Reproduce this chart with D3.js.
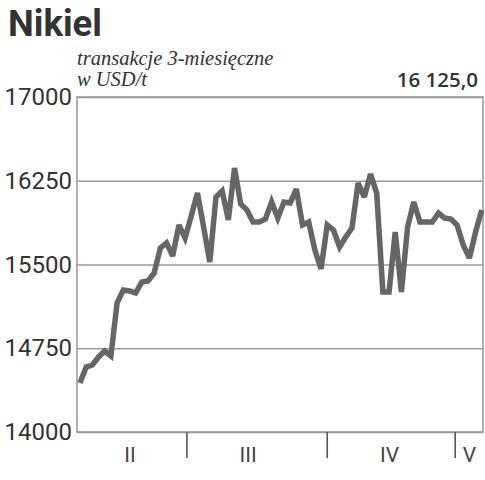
<!DOCTYPE html>
<html><head><meta charset="utf-8">
<script src="https://cdn.jsdelivr.net/npm/d3@7"></script>
<style>body{margin:0;background:#fff}svg{display:block}</style>
</head><body>
<script>
const title = "Nikiel";
const subtitle = ["transakcje 3-miesięczne", "w USD/t"];
const lastValue = "16 125,0";
const yTicks = [14000, 14750, 15500, 16250, 17000];
const months = ["II", "III", "IV", "V"];
const monthCenters = [8.1, 27.2, 50.1, 63];
const monthBreaks = [17.3, 40, 60.7];
const prices = [14439,14582,14600,14672,14725,14681,15155,15272,15263,15245,15343,15352,15424,15648,15693,15576,
15854,15737,15934,16140,15836,15522,16104,16158,15899,16364,16042,15988,15881,15881,15907,16060,15916,16060,16051,
16176,15854,15881,15630,15460,15854,15809,15657,15746,15827,16230,16104,16310,16140,15254,15254,15791,15254,15836,
16060,15881,15881,15881,15961,15916,15907,15854,15675,15558,15791,15988];

const W = 485, H = 480;
const svg = d3.select("body").append("svg").attr("width", W).attr("height", H);
const L = 77, R = 483, T = 97, B = 432;
const x = d3.scaleLinear().domain([-0.485, 65.2]).range([L, R]);
const y = d3.scaleLinear().domain([14000, 17000]).range([B, T]);

svg.append("text").attr("x", 8).attr("y", 36).text(title)
  .attr("font-family", "Roboto, sans-serif").attr("font-weight", 700).attr("font-size", 36.5).attr("fill", "#333");
subtitle.forEach((s, i) => svg.append("text").attr("x", 77).attr("y", 65 + i * 21).text(s)
  .attr("font-family", "'Liberation Serif', serif").attr("font-style", "italic").attr("font-size", 20.5).attr("fill", "#333"));
svg.append("text").attr("x", 478).attr("y", 87).attr("text-anchor", "end").text(lastValue)
  .attr("font-family", "'Open Sans', sans-serif").attr("font-weight", 600).attr("font-size", 20.5).attr("fill", "#333");

// grid + y labels
const ya = svg.append("g").attr("transform", `translate(${L},0)`)
  .call(d3.axisLeft(y).tickValues(yTicks).tickSizeInner(-(R - L)).tickSizeOuter(0).tickPadding(5).tickFormat(d3.format("d")));
ya.select(".domain").remove();
ya.selectAll(".tick line").attr("stroke", "#999").attr("stroke-width", 1.5);
ya.selectAll(".tick text").attr("font-family", "Roboto, sans-serif").attr("font-size", 24).attr("fill", "#333");

// frame
svg.append("rect").attr("x", L).attr("y", T).attr("width", R - L).attr("height", B - T)
  .attr("fill", "none").attr("stroke", "#999").attr("stroke-width", 1.5);

// month ticks and labels
svg.selectAll(".mb").data(monthBreaks).enter().append("line")
  .attr("x1", d => x(d)).attr("x2", d => x(d)).attr("y1", B).attr("y2", 458)
  .attr("stroke", "#555").attr("stroke-width", 1.6);
svg.selectAll(".ml").data(months).enter().append("text")
  .attr("x", (d, i) => x(monthCenters[i])).attr("y", 462).attr("text-anchor", "middle").text(d => d)
  .attr("font-family", "Roboto, sans-serif").attr("font-size", 21).attr("fill", "#444");

// line
svg.append("path").datum(prices)
  .attr("d", d3.line().x((d, i) => x(i)).y(d => y(d)))
  .attr("fill", "none").attr("stroke", "#666").attr("stroke-width", 5.5).attr("stroke-linejoin", "miter").attr("stroke-miterlimit", 3);
</script>
</body></html>
